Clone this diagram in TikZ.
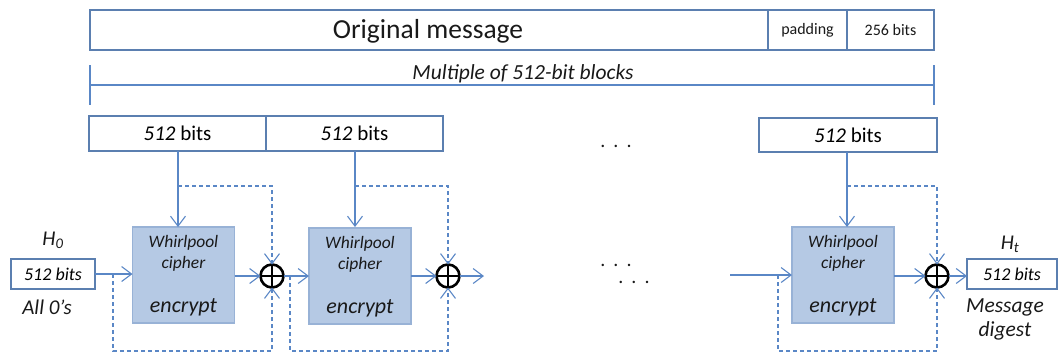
\documentclass[tikz,border=0pt]{standalone}
\usepackage{fontspec}
\setmainfont{Carlito}
\usetikzlibrary{arrows.meta,calc}
\definecolor{lineblue}{HTML}{5A87C6}
\definecolor{boxline}{HTML}{5B7FB0}
\definecolor{cipherfill}{HTML}{B5C9E4}
\definecolor{cipherline}{HTML}{98B2D6}
\newcommand{\fs}[1]{\fontsize{#1}{#1}\selectfont}
\tikzset{
  blk/.style={draw=boxline, line width=1.3pt, inner sep=0pt, outer sep=0pt, fill=white},
  cipherbox/.style={draw=cipherline, fill=cipherfill, line width=1.3pt, minimum width=102pt, minimum height=96pt, inner sep=0pt, outer sep=0pt},
  xorop/.style={circle, draw=black, line width=2.6pt, minimum size=23pt, inner sep=0pt, outer sep=0pt,
    path picture={\draw[line width=1.3pt] (path picture bounding box.north) -- (path picture bounding box.south)
                  (path picture bounding box.west) -- (path picture bounding box.east);}},
  conn/.style={draw=lineblue, line width=1.2pt},
  tip/.style={-{Straight Barb[length=10pt,width=15pt,line width=1.1pt]}},
  arr/.style={conn, tip},
  fb/.style={draw=lineblue, line width=1.1pt, dash pattern=on 4pt off 3pt},
  fbarr/.style={fb, tip},
  txt/.style={inner sep=0pt, outer sep=0pt, text=black!90},
}
\begin{document}
\begin{tikzpicture}[x=1pt, y=-1pt]
\useasboundingbox (0,0) rectangle (1061,354);

% message layout
\node[blk, anchor=north west, minimum width=678pt, minimum height=40pt] (msg) at (90,10) {};
\node[blk, anchor=north west, minimum width=79pt, minimum height=40pt] (pad) at (768,10) {};
\node[blk, anchor=north west, minimum width=87pt, minimum height=40pt] (len) at (847,10) {};
\node[txt] at (428,31) {\fs{27.5}Original message};
\node[txt] at (pad.center) {\fs{16}padding};
\node[txt] at (len.center) {\fs{16}256 bits};

% length of the padded message
\coordinate (dl) at (90,85);
\coordinate (dr) at (934,85);
\draw[conn] (90,65) -- (90,105);
\draw[conn] (934,65) -- (934,105);
\draw[conn] (dl) -- (dr);
\node[txt] at (523,74) {\fs{21.5}\itshape Multiple of 512-bit blocks};

% message blocks
\node[blk, anchor=north west, minimum width=177pt, minimum height=35pt] (b1) at (89,116) {\fs{21}\textit{512} bits};
\node[blk, anchor=north west, minimum width=177pt, minimum height=35pt] (b2) at (266,116) {\fs{21}\textit{512} bits};
\node[blk, anchor=north west, minimum width=178pt, minimum height=34pt] (b3) at (759,118) {\fs{21}\textit{512} bits};
\node[txt] at (616,146) {\fs{20}.\hspace{8pt}.\hspace{8pt}.};

% cipher stages
\node[cipherbox] (c1) at (183.5,275) {};
\node[cipherbox] (c2) at (360,276) {};
\node[cipherbox] (c3) at (843,275) {};
\foreach \c in {c1,c2,c3}{
  \node[txt] at ($(\c.north)+(0,16)$) {\fs{17.5}\itshape Whirlpool};
  \node[txt] at ($(\c.north)+(0,37)$) {\fs{17.5}\itshape cipher};
  \node[txt] at ($(\c.north)+(0,80)$) {\fs{22}\itshape encrypt};
}

% xor operators
\node[xorop] (x1) at (272,276) {};
\node[xorop] (x2) at (448,276) {};
\node[xorop] (x3) at (937,276) {};

% initial and final chaining values
\node[blk, minimum width=84pt, minimum height=30pt] (h0) at (53,274) {\fs{18}\itshape 512 bits};
\node[txt] at (53,240) {\fs{21}$\mathit{H_0}$};
\node[txt] at (47,307) {\fs{21}\itshape All 0’s};
\node[blk, minimum width=90pt, minimum height=30pt] (ht) at (1012,274) {\fs{18}\itshape 512 bits};
\node[txt] at (1010,244) {\fs{21}$\mathit{H_t}$};
\node[txt] at (1005,307) {\fs{21.5}\itshape Message};
\node[txt] at (1005,331) {\fs{21.5}\itshape digest};

% block inputs
\draw[arr] (b1.south -| 178,0) -- (178,227);
\draw[arr] (b2.south -| 355,0) -- (355,227);
\draw[arr] (b3.south -| 847,0) -- (847,227);

% feed-forward of the message blocks
\draw[fbarr] (178,186) -- (272,186) -- (x1.north);
\draw[fbarr] (355,186) -- (448,186) -- (x2.north);
\draw[fbarr] (847,186) -- (937,186) -- (x3.north);

% chaining path
\coordinate (s1) at (113,274);
\coordinate (s2) at (290,276);
\coordinate (s3) at (778,275);
\coordinate (out2) at (484,276);
\coordinate (in3) at (730,275);
\draw[arr] (h0.east) -- (h0.east -| c1.west);
\draw[arr] (c1.east |- x1) -- (x1.west);
\draw[arr] (x1.east) -- (x1.east -| c2.west);
\draw[arr] (c2.east |- x2) -- (x2.west);
\draw[arr] (x2.east) -- (out2);
\draw[arr] (in3) -- (in3 -| c3.west);
\draw[arr] (c3.east |- x3) -- (x3.west);
\draw[arr] (x3.east) -- (x3.east -| ht.west);

% feed-forward of the chaining values
\draw[fbarr] (s1) -- (113,351) -- (272,351) -- (x1.south);
\draw[fbarr] (s2) -- (290,351) -- (448,351) -- (x2.south);
\draw[fbarr] (s3) -- (778,351) -- (937,351) -- (x3.south);

% omitted stages
\node[txt] at (616,265) {\fs{20}.\hspace{8pt}.\hspace{8pt}.};
\node[txt] at (634,282) {\fs{20}.\hspace{8pt}.\hspace{8pt}.};
\end{tikzpicture}
\end{document}
